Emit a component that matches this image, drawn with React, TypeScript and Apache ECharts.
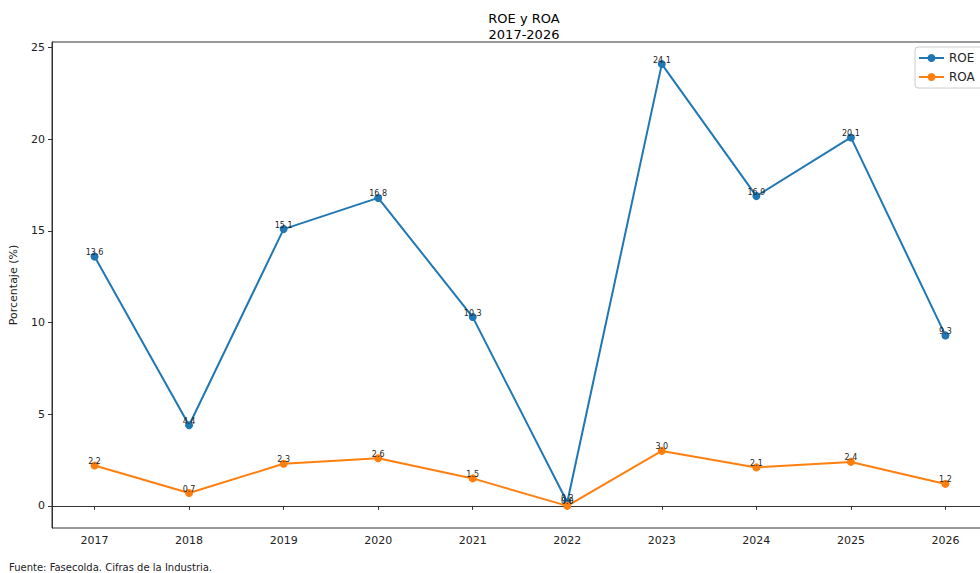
import React, { useEffect, useRef } from "react";
import * as echarts from "echarts";

const years = [2017, 2018, 2019, 2020, 2021, 2022, 2023, 2024, 2025, 2026];
const roe = [13.6, 4.4, 15.1, 16.8, 10.3, 0.2, 24.1, 16.9, 20.1, 9.3];
const roa = [2.2, 0.7, 2.3, 2.6, 1.5, 0.0, 3.0, 2.1, 2.4, 1.2];
const yTicks = [0, 5, 10, 15, 20, 25];

const FONT = "DejaVu Sans";

export default function App() {
  const ref = useRef<HTMLDivElement>(null);
  useEffect(() => {
    if (!ref.current) return;
    const chart = echarts.init(ref.current, undefined, { renderer: "svg" });
    const mk = (name: string, vals: number[], color: string) => ({
      name,
      type: "line",
      data: years.map((y, i) => [y, vals[i]]),
      symbol: "circle",
      symbolSize: 8,
      lineStyle: { color, width: 2 },
      itemStyle: { color },
      label: {
        show: true,
        position: "inside",
        offset: [0, -4],
        fontSize: 8,
        fontFamily: FONT,
        color: "#222",
        formatter: (p: any) => p.value[1].toFixed(1),
      },
    });
    chart.setOption({
      animation: false,
      backgroundColor: "#fff",
      textStyle: { fontFamily: FONT },
      title: {
        text: "ROE y ROA\n2017-2026",
        left: 519,
        textAlign: "center",
        top: 5,
        textStyle: { fontSize: 13, fontWeight: "normal", color: "#000", lineHeight: 16, fontFamily: FONT },
      },
      grid: { left: 50, top: 42, width: 938, height: 486, show: true, borderColor: "#333", borderWidth: 1, backgroundColor: "transparent" },
      xAxis: {
        type: "value",
        min: 2016.55,
        max: 2026.45,
        axisLine: { show: true, lineStyle: { color: "#333" } },
        splitLine: { show: false },
        axisTick: { show: true, customValues: years, length: 4, lineStyle: { color: "#333" } },
        axisLabel: { customValues: years, color: "#222", fontSize: 11, fontFamily: FONT, margin: 7, formatter: (v: number) => String(v) },
      },
      yAxis: {
        type: "value",
        min: -1.205,
        max: 25.305,
        name: "Porcentaje (%)",
        nameLocation: "middle",
        nameGap: 33,
        nameTextStyle: { fontSize: 11, color: "#222", fontFamily: FONT },
        axisLine: { show: true, lineStyle: { color: "#333" } },
        splitLine: { show: false },
        axisTick: { show: true, customValues: yTicks, length: 4, lineStyle: { color: "#333" } },
        axisLabel: { customValues: yTicks, color: "#222", fontSize: 11, fontFamily: FONT, margin: 7, formatter: (v: number) => String(v) },
      },
      legend: {
        orient: "vertical",
        left: 915,
        top: 47,
        itemWidth: 25,
        itemHeight: 10,
        itemGap: 7,
        padding: [5, 12, 5, 3],
        borderColor: "#ccc",
        borderWidth: 1,
        borderRadius: 3,
        backgroundColor: "rgba(255,255,255,0.8)",
        textStyle: { fontSize: 12, color: "#222", fontFamily: FONT },
        data: ["ROE", "ROA"],
      },
      graphic: [
        {
          type: "text",
          left: 9,
          top: 562,
          style: { text: "Fuente: Fasecolda. Cifras de la Industria.", fontSize: 10, fill: "#222", fontFamily: FONT },
        },
      ],
      series: [mk("ROE", roe, "#1f77b4"), mk("ROA", roa, "#ff7f0e")],
    });
    return () => chart.dispose();
  }, []);
  return (
    <div style={{ position: "fixed", left: 0, top: 0, width: 980, height: 573, overflow: "hidden" }}>
      <div ref={ref} style={{ width: 1000, height: 573 }} />
    </div>
  );
}
